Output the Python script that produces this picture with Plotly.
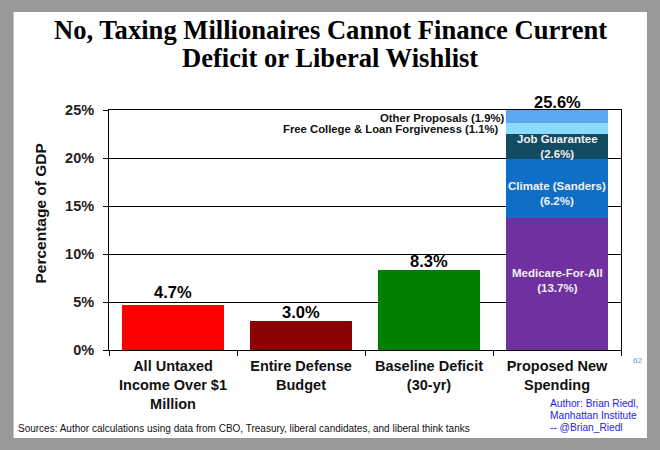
import plotly.graph_objects as go
from itertools import accumulate

categories = ["All Untaxed<br>Income Over $1<br>Million", "Entire Defense<br>Budget", "Baseline Deficit<br>(30-yr)", "Proposed New<br>Spending"]
single_values = [4.7, 3.0, 8.3]
single_colors = ["#FF0000", "#8B0000", "#008000"]
total_labels = ["4.7%", "3.0%", "8.3%", "25.6%"]
total_values = [4.7, 3.0, 8.3, 25.0]
label_shift = [2, -2, -2, -3]
stack_names = ["Medicare-For-All", "Climate (Sanders)", "Job Guarantee", "Free College & Loan Forgiveness", "Other Proposals"]
stack_values = [13.7, 6.2, 2.6, 1.1, 1.9]
stack_colors = ["#7030A0", "#0F6FC6", "#134B63", "#8BDBFF", "#5BA8F0"]
stack_text = ["Medicare-For-All<br>(13.7%)", "Climate (Sanders)<br>(6.2%)", "Job Guarantee<br>(2.6%)"]
stack_shift = [4, -5, 0]
side_labels = ["Other Proposals (1.9%)", "Free College & Loan Forgiveness (1.1%)"]
side_y = [24.2, 23.0]
side_shift = [-50, -56]
y_ticks = [0, 5, 10, 15, 20, 25]
title_lines = ["No, Taxing Millionaires Cannot Finance Current", "Deficit or Liberal Wishlist"]
author_lines = ["Author: Brian Riedl,", "Manhattan Institute", "-- @Brian_Riedl"]

W, H = 660, 450
L, R, T, B = 108.5, 39, 110, 100
pw, ph = W - L - R, H - T - B
SANS = "Liberation Sans, Arial, sans-serif"

fig = go.Figure()
fig.add_bar(x=categories[:3], y=single_values, marker=dict(color=single_colors, line_width=0), width=0.8, showlegend=False)
for n, v, c in zip(stack_names, stack_values, stack_colors):
    fig.add_bar(x=[categories[3]], y=[v], name=n, marker=dict(color=c, line_width=0), width=0.8, showlegend=False)

tops = list(accumulate(stack_values))
for t, top, v, s in zip(stack_text, tops, stack_values, stack_shift):
    fig.add_annotation(x=categories[3], y=top - v / 2, text="<b>%s</b>" % t, showarrow=False, yshift=s,
                       font=dict(family=SANS, size=11.5, color="#F2F2F2"))

for c, y, t, s in zip(categories, total_values, total_labels, label_shift):
    fig.add_annotation(x=c, y=y, text="<b>%s</b>" % t, showarrow=False, yanchor="bottom", yshift=s,
                       font=dict(family=SANS, size=16.5, color="black"))
for t, y, s in zip(side_labels, side_y, side_shift):
    fig.add_annotation(x=categories[3], y=y, text="<b>%s</b>" % t, showarrow=False, xanchor="right", xshift=s,
                       font=dict(family=SANS, size=11.3, color="#111111"))

fx = lambda px: (px - L) / pw
fy = lambda py: 1 - (py - T) / ph
fig.add_shape(type="rect", xref="paper", yref="paper", x0=fx(13), x1=fx(647), y0=fy(438), y1=fy(12),
              fillcolor="white", line_width=0, layer="below")
for t, py in zip(title_lines, [30, 58]):
    fig.add_annotation(xref="paper", yref="paper", x=fx(330), y=fy(py), xanchor="center", yanchor="middle", text="<b>%s</b>" % t, showarrow=False,
                       font=dict(family="Liberation Serif, Times New Roman, serif", size=26.6, color="black"))
fig.add_annotation(xref="paper", yref="paper", x=fx(15), y=fy(428), xanchor="left", yanchor="middle",
                   text="Sources: Author calculations using data from CBO, Treasury, liberal candidates, and liberal think tanks",
                   showarrow=False, font=dict(family=SANS, size=10, color="#111111"))
for t, py in zip(author_lines, [403, 415, 427]):
    fig.add_annotation(xref="paper", yref="paper", x=fx(548), y=fy(py), xanchor="left", yanchor="middle", text=t,
                       showarrow=False, font=dict(family=SANS, size=10.2, color="#2222EE"))
fig.add_annotation(xref="paper", yref="paper", x=fx(638), y=fy(360), xanchor="center", yanchor="middle",
                   text="62", showarrow=False, font=dict(family=SANS, size=8, color="#5B9BD5"))
fig.add_annotation(xref="paper", yref="paper", x=fx(39), y=fy(214), xanchor="center", yanchor="middle", text="<b>Percentage of GDP</b>", textangle=-90,
                   showarrow=False, font=dict(family=SANS, size=15.5, color="#111111"))

fig.update_layout(
    width=W, height=H, barmode="stack", paper_bgcolor="#999999", plot_bgcolor="rgba(0,0,0,0)",
    margin=dict(l=L, r=R, t=T, b=B, autoexpand=False), bargap=0.2,
    xaxis=dict(tickson="boundaries", ticks="outside", ticklen=5, tickwidth=1, tickcolor="black",
               showline=True, linecolor="black", linewidth=1, mirror=True, showgrid=False, tickangle=0,
               ticklabelstandoff=3,
               tickfont=dict(family=SANS, size=14.5, color="#111111", weight="bold")),
    yaxis=dict(range=[0, 25], tickvals=y_ticks, ticktext=["%d%%" % v for v in y_ticks], ticks="outside", ticklen=5,
               tickcolor="black", showline=True, linecolor="black", linewidth=1, mirror=True,
               gridcolor="black", gridwidth=1, zeroline=False, ticklabelstandoff=6,
               tickfont=dict(family=SANS, size=14.5, color="#222222", weight="bold")),
)
fig.write_html("out.html", post_script="document.body.style.margin='0';", config={"displayModeBar": False})
